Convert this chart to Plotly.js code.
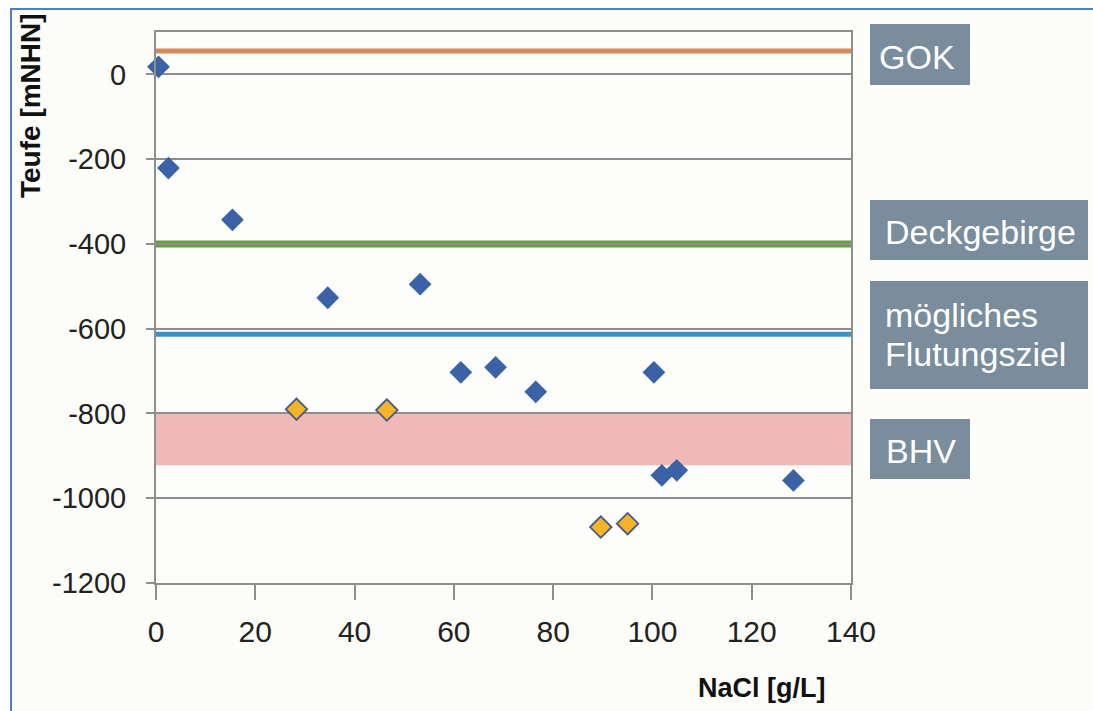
<!DOCTYPE html>
<html>
<head>
<meta charset="utf-8">
<script src="https://cdn.plot.ly/plotly-3.0.1.min.js"></script>
<style>
  html, body { margin:0; padding:0; background:#ffffff; }
  #frame { position:absolute; left:10px; top:8px; width:1083px; height:703px;
           background:#fcfcf8; border-left:2px solid #4a7fc6; border-top:2px solid #4a7fc6; }
  #chart { position:absolute; left:0; top:0; width:1093px; height:711px; }
</style>
</head>
<body>
<div id="frame"></div>
<div id="chart"></div>
<script>
// ---- data ----
const naclBlue  = [0.5, 2.5, 15.4, 34.6, 53.2, 61.4, 68.4, 76.5, 100.3, 101.9, 104.9, 128.4];
const depthBlue = [18, -221, -343, -527, -495, -703, -691, -749, -703, -946, -934, -958];
const naclOrange  = [28.3, 46.5, 89.6, 95.0];
const depthOrange = [-790, -792, -1068, -1060];

const levelGOK  = 55;      // Geländeoberkante
const levelDeck = -400;    // Deckgebirge
const levelFlut = -613;    // mögliches Flutungsziel
const bhvTop = -800, bhvBottom = -922;  // BHV band

const xTicks = [0, 20, 40, 60, 80, 100, 120, 140];
const yTicks = [-1200, -1000, -800, -600, -400, -200, 0];
const yTickText = ["-1200", "-1000", "-800", "-600", "-400", "-200", "0"];
const labelGOK = "GOK";
const labelDeck = "Deckgebirge";
const labelFlut = ["mögliches", "Flutungsziel"];
const labelBHV = "BHV";
const xTitle = "NaCl [g/L]";
const yTitle = "Teufe [mNHN]";

const gray = "#8e8e8e";
const boxColor = "#798d9d";
const font = "Liberation Sans, Arial, sans-serif";

const traces = [
  { type:"scatter", mode:"markers", x:naclBlue, y:depthBlue, cliponaxis:false,
    marker:{symbol:"diamond", size:17.5, color:"#3b62a6", line:{width:0}} },
  { type:"scatter", mode:"markers", x:naclOrange, y:depthOrange, cliponaxis:false,
    marker:{symbol:"diamond", size:16.5, color:"#f5b326", line:{width:1.8, color:"#465a86"}} }
];

function box(x0, x1, y0, y1) {
  return {type:"rect", xref:"paper", yref:"paper", x0:x0, x1:x1, y0:y0, y1:y1,
          fillcolor:boxColor, line:{width:0}, layer:"above"};
}
// paper-coordinate helpers (plot area: x 156..851 px, y 32..583 px)
const px = v => (v - 156) / 695;
const py = v => (583 - v) / 551;

function lbl(text, xpx, ypx) {
  return {text:text, xref:"paper", yref:"paper", x:px(xpx), y:py(ypx),
          xanchor:"left", yanchor:"middle", showarrow:false,
          font:{family:font, size:34, color:"#ffffff"}};
}

const layout = {
  width:1093, height:711,
  margin:{l:156, r:242, t:32, b:128},
  paper_bgcolor:"rgba(0,0,0,0)", plot_bgcolor:"#fdfdfb",
  showlegend:false,
  font:{family:font, color:"#262626"},
  xaxis:{range:[0,140], tickvals:xTicks, ticks:"outside", ticklen:15, tickwidth:2, tickcolor:gray,
         showgrid:false, zeroline:false, showline:true, mirror:true, linecolor:gray, linewidth:2,
         tickfont:{family:font, size:30, color:"#222222"}, ticklabelstandoff:6},
  yaxis:{range:[-1200,100], tickvals:yTicks, ticktext:yTickText, ticks:"outside", ticklen:8, tickwidth:2, tickcolor:gray,
         showgrid:true, gridcolor:gray, gridwidth:2, zeroline:false,
         showline:true, mirror:true, linecolor:gray, linewidth:2,
         tickfont:{family:font, size:29, color:"#222222"}, ticklabelstandoff:14},
  shapes:[
    {type:"rect", xref:"paper", yref:"y", x0:0, x1:1, y0:bhvBottom, y1:bhvTop,
     fillcolor:"#f1b9b6", line:{width:0}, layer:"below"},
    {type:"line", xref:"paper", yref:"y", x0:0, x1:1, y0:levelGOK, y1:levelGOK,
     line:{color:"#d68a5c", width:5}, layer:"below"},
    {type:"line", xref:"paper", yref:"y", x0:0, x1:1, y0:levelDeck, y1:levelDeck,
     line:{color:"#62a040", width:7}, layer:"below"},
    {type:"line", xref:"paper", yref:"y", x0:0, x1:1, y0:levelFlut, y1:levelFlut,
     line:{color:"#3a92cb", width:5}, layer:"below"},
    box(px(870), px(970), py(85), py(24)),
    box(px(870), px(1088), py(260), py(200)),
    box(px(870), px(1088), py(389), py(281)),
    box(px(870), px(970), py(479), py(419))
  ],
  annotations:[
    lbl(labelGOK, 877, 57),
    lbl(labelDeck, 883, 232),
    lbl(labelFlut[0], 883, 315),
    lbl(labelFlut[1], 883, 354),
    lbl(labelBHV, 884, 451),
    {text:"<b>"+yTitle+"</b>", xref:"paper", yref:"paper", x:px(30), y:py(106),
     xanchor:"center", yanchor:"middle", textangle:-90, showarrow:false,
     font:{family:font, size:28, color:"#111111"}},
    {text:"<b>"+xTitle+"</b>", xref:"paper", yref:"paper", x:px(762), y:py(688),
     xanchor:"center", yanchor:"middle", showarrow:false,
     font:{family:font, size:27, color:"#111111"}}
  ]
};

Plotly.newPlot("chart", traces, layout, {displayModeBar:false, staticPlot:true});
</script>
</body>
</html>
